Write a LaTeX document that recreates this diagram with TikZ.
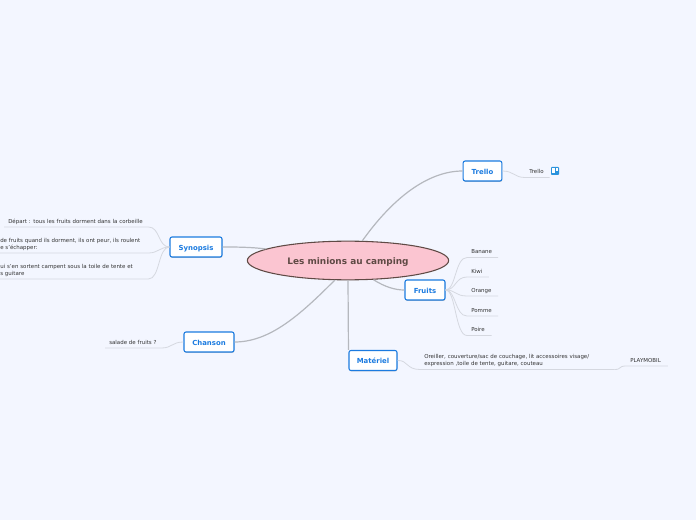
\documentclass[tikz,border=0pt]{standalone}
\usepackage{fontspec}
\setmainfont{DejaVu Sans}
\usetikzlibrary{shadows,calc,shapes.geometric}
\definecolor{fondpage}{HTML}{F3F6FF}
\definecolor{bleuboite}{HTML}{1B7BE0}
\definecolor{bleuicone}{HTML}{2A93DD}
\definecolor{roseidee}{HTML}{FBC5D1}
\definecolor{brunidee}{HTML}{5F4A45}
\definecolor{grisbranche}{HTML}{B5B8BE}
\definecolor{grisfeuille}{HTML}{D5D8E0}
\definecolor{texte}{HTML}{333333}
\tikzset{
    idee/.style={draw=brunidee, fill=roseidee, text=brunidee, ellipse, line width=0.8pt, minimum width=151pt, minimum height=29pt, inner sep=0pt, text height=6pt, text depth=0pt, font=\fontsize{6.7}{8}\selectfont\bfseries},
    sujet/.style={draw=bleuboite, fill=white, text=bleuboite, rounded corners=1.5pt, line width=0.8pt, inner sep=0pt, minimum height=15pt, text height=4.6pt, text depth=0pt, font=\fontsize{5.2}{7}\selectfont\bfseries, drop shadow={shadow xshift=0.3pt, shadow yshift=-0.7pt, fill=black!40}},
    feuille/.style={anchor=south west, inner xsep=3pt, inner ysep=1.6pt, text depth=1pt, align=left, text=texte, font=\fontsize{4.1}{5.2}\selectfont},
    deuxlignes/.style={feuille, text depth=6.2pt},
    branche/.style={draw=grisbranche, line width=0.9pt},
    rameau/.style={draw=grisfeuille, line width=0.6pt}
}
\begin{document}
\begin{tikzpicture}[x=0.75pt, y=-0.75pt]
    % Fond de page
    \fill[fondpage] (0,0) rectangle (696,520);
    \useasboundingbox (0,0) rectangle (696,520);
    % Idee centrale
    \node[idee] (camping) at (348,260.5) {Les minions au camping};
    % Sujets
    \node[sujet, minimum width=29pt] (trello) at (482.5,171) {Trello};
    \node[sujet, minimum width=39pt] (synopsis) at (196,247) {Synopsis};
    \node[sujet, minimum width=37.5pt] (chanson) at (209,342) {Chanson};
    \node[sujet, minimum width=30pt] (fruits) at (425,290) {Fruits};
    \node[sujet, minimum width=36pt] (materiel) at (373,360.5) {Matériel};
    % Feuilles de Synopsis
    \node[feuille, text width=102pt] (depart) at (4,227) {Départ : tous les fruits dorment dans la corbeille};
    \node[deuxlignes, inner xsep=0pt, text width=111pt] (roulent) at (0,253) {de fruits quand ils dorment, ils ont peur, ils roulent\\e s'échapper:};
    \node[deuxlignes, inner xsep=0pt, text width=111pt] (campent) at (0,279) {ui s'en sortent campent sous la toile de tente et\\s guitare};
    % Feuille de Chanson
    \node[feuille, text width=36pt] (salade) at (105,348) {salade de fruits ?};
    % Feuille de Trello
    \node[feuille, text width=12pt] (carte) at (525,177.5) {Trello};
    \node[fill=bleuicone, rounded corners=0.6pt, minimum size=6pt, inner sep=0pt] (icone) at (555,171) {};
    \fill[white] ($(icone.center)+(-3,-3)$) rectangle +(2.5,5.5);
    \fill[white] ($(icone.center)+(0.5,-3)$) rectangle +(2.5,3.5);
    % Feuilles de Fruits
    \node[feuille, text width=17pt] (banane) at (467,257.5) {Banane};
    \node[feuille, text width=10pt] (kiwi) at (467,277) {Kiwi};
    \node[feuille, text width=17pt] (orange) at (467,296) {Orange};
    \node[feuille, text width=17pt] (pomme) at (467,316) {Pomme};
    \node[feuille, text width=12pt] (poire) at (467,335.5) {Poire};
    % Feuilles de Materiel
    \node[deuxlignes, text width=139.5pt] (oreiller) at (420,369.5) {Oreiller, couverture/sac de couchage, lit accessoires visage/\\expression ,toile de tente, guitare, couteau};
    \node[feuille, text width=25pt] (playmobil) at (626,366) {PLAYMOBIL};
    % Branches principales
    \draw[branche] (camping.54) .. controls (395,195) and (430,171) .. (trello.west);
    \draw[branche] (camping.172) .. controls (250,247) and (235,247) .. (synopsis.east);
    \draw[branche] (camping.236) .. controls (300,315) and (270,342) .. (chanson.east);
    \draw[branche] (camping.270) -- (materiel.north west);
    \draw[branche] (camping.323) .. controls (385,287) and (395,290) .. (fruits.west);
    % Rameaux
    \draw[rameau] (synopsis.west) .. controls (158,247) and (160,227) .. (depart.south east) -- (depart.south west);
    \draw[rameau] (synopsis.west) .. controls (160,247) and (158,253) .. (roulent.south east) -- (roulent.south west);
    \draw[rameau] (synopsis.west) .. controls (158,247) and (160,279) .. (campent.south east) -- (campent.south west);
    \draw[rameau] (chanson.west) .. controls (172,342) and (172,348) .. (salade.south east) -- (salade.south west);
    \draw[rameau] (trello.east) .. controls (514,171) and (514,177.5) .. (carte.south west) -- (carte.south east);
    \foreach \feuil in {banane,kiwi,orange,pomme,poire}
        \draw[rameau] (fruits.east) .. controls (456,290) and ($(\feuil.south west)+(-12,0)$) .. (\feuil.south west) -- (\feuil.south east);
    \draw[rameau] (materiel.east) .. controls (408,360) and (406,369.5) .. (oreiller.south west) -- (oreiller.south east);
    \draw[rameau] (oreiller.south east) .. controls (622,369.5) and (618,366) .. (playmobil.south west) -- (playmobil.south east);
\end{tikzpicture}
\end{document}
